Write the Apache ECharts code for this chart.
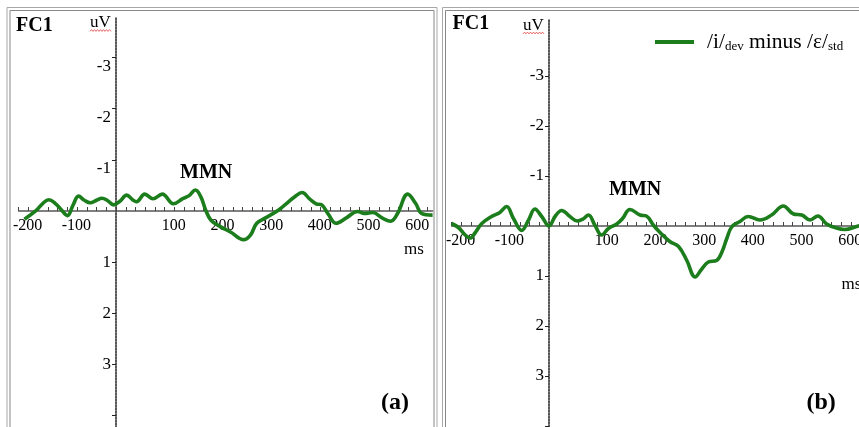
<!DOCTYPE html>
<html>
<head>
<meta charset="utf-8">
<script src="https://cdn.jsdelivr.net/npm/echarts@6/dist/echarts.min.js"></script>
<style>
  html, body { margin: 0; padding: 0; background: #fff; }
  #chart { width: 859px; height: 427px; }
</style>
</head>
<body>
<div id="chart"></div>
<script>
// Difference waves at electrode FC1 (time in ms, amplitude in uV, negative up)
const seriesName = '/i/dev minus /ε/std';

// Panel (a)
const msA = [-188, -165, -150, -138, -125, -112, -100, -88, -77, -65, -53, -40, -29, -17, -5, 8, 22, 34, 42, 59,
  76, 95, 118, 137, 150, 163, 174, 184, 195, 215, 235, 262, 276, 289, 306, 334, 354, 367, 382, 398,
  411, 422, 435, 452, 472, 496, 510, 527, 547, 564, 578, 599, 615, 628, 650];
const uvA = [0.16, 0.0, -0.15, -0.22, -0.15, -0.02, 0.09, -0.12, -0.29, -0.21, -0.16, -0.21, -0.25, -0.2, -0.12, -0.19, -0.31, -0.22, -0.18, -0.33,
  -0.24, -0.33, -0.14, -0.24, -0.3, -0.41, -0.28, -0.02, 0.18, 0.31, 0.41, 0.56, 0.47, 0.24, 0.14, -0.02, -0.18, -0.28, -0.36, -0.23,
  -0.14, -0.12, 0.05, 0.24, 0.14, 0.01, 0.05, 0.03, 0.14, 0.2, 0.05, -0.33, -0.15, 0.05, 0.08];

// Panel (b)
const msB = [-200, -186, -172, -162, -152, -138, -118, -101, -87, -73, -56, -42, -29, -15, 0, 13, 26, 43, 58, 70,
  81, 94, 108, 122, 139, 151, 166, 187, 200, 214, 228, 248, 266, 283, 300, 313, 327, 344, 355, 365,
  375, 392, 409, 433, 457, 481, 502, 519, 536, 552, 570, 590, 607, 635, 650];
const uvB = [-0.05, 0.03, 0.18, 0.24, 0.14, -0.05, -0.19, -0.27, -0.39, -0.15, 0.09, -0.12, -0.34, -0.19, 0.0, -0.2, -0.31, -0.19, -0.1, -0.14,
  -0.22, -0.02, 0.18, 0.05, -0.04, -0.15, -0.33, -0.22, -0.2, -0.02, 0.13, 0.31, 0.41, 0.69, 1.02, 0.87, 0.72, 0.69, 0.52, 0.25,
  0.02, -0.09, -0.19, -0.12, -0.22, -0.4, -0.24, -0.22, -0.12, -0.2, -0.04, 0.04, 0.07, 0.0, -0.02];

// Tick labels
const xLabels = [-200, -100, 100, 200, 300, 400, 500, 600];
const yLabels = [-3, -2, -1, 1, 2, 3];

const serif = 'Liberation Serif';
const green = '#1b7d1b';

// Each panel: plot box and axis ranges
const panels = [
  { left: 18.6, top: 18, width: 414, height: 409, xMin: -200, xMax: 650, yMin: -3.77, yMax: 4.22, shiftNeg: true },
  { left: 451.6, top: 20, width: 414, height: 407, xMin: -200, xMax: 650, yMin: -4.12, yMax: 4.02, shiftNeg: false }
];

const xTicks = [];
for (let v = -200; v <= 640; v += 20) xTicks.push(v);

// The axes cross at (0, 0): shift each axis inward from the plot edge to the zero line
function makeX(idx) {
  const p = panels[idx];
  const fromBottom = p.height * (p.yMax - 0) / (p.yMax - p.yMin);
  return {
    type: 'value', gridIndex: idx, min: p.xMin, max: p.xMax, position: 'bottom', offset: -fromBottom,
    axisLine: { onZero: false, lineStyle: { color: '#555', width: 1.5 } },
    axisTick: { show: true, inside: true, length: 4, customValues: xTicks, lineStyle: { color: '#444', width: 1 } },
    axisLabel: {
      customValues: xLabels, margin: 7, color: '#000', fontFamily: serif, fontSize: 16,
      align: 'center', padding: [0, 0, 0, 18]
    },
    splitLine: { show: false }
  };
}

function makeY(idx) {
  const p = panels[idx];
  const fromLeft = p.width * (0 - p.xMin) / (p.xMax - p.xMin);
  return {
    type: 'value', gridIndex: idx, min: p.yMin, max: p.yMax, inverse: true, position: 'left', offset: -fromLeft,
    axisLine: { onZero: false, lineStyle: { color: '#222', width: 1.5, type: [2, 1] } },
    axisTick: { show: true, length: 4, customValues: [-3, -2, -1, 1, 2, 3, 4], lineStyle: { color: '#222', width: 1 } },
    axisLabel: {
      customValues: yLabels, margin: 5, color: '#000', fontFamily: serif, fontSize: 17,
      formatter: v => (v < 0 && p.shiftNeg) ? '{n|' + v + '}' : '{p|' + v + '}',
      rich: {
        n: { fontFamily: serif, fontSize: 17, color: '#000', padding: [18, 0, 0, 0] },
        p: { fontFamily: serif, fontSize: 17, color: '#000' }
      }
    },
    splitLine: { show: false }
  };
}

function squiggle(x0, y0, w) {
  const pts = [];
  for (let i = 0; i <= w; i += 1.5) pts.push([x0 + i, y0 + ((Math.round(i / 1.5) % 2) ? -0.9 : 0.9)]);
  return { type: 'polyline', shape: { points: pts }, style: { stroke: '#e04040', lineWidth: 0.8, fill: null }, z: 10 };
}

function frame(x, y, w, h, color) {
  return { type: 'rect', shape: { x: x, y: y, width: w, height: h }, style: { fill: null, stroke: color, lineWidth: 1 }, z: 0 };
}

function label(text, x, y, size, bold) {
  return {
    type: 'text', x: x, y: y, z: 10,
    style: { text: text, fontFamily: serif, fontSize: size, fontWeight: bold ? 'bold' : 'normal', fill: '#000', verticalAlign: 'middle', align: 'left' }
  };
}

const chart = echarts.init(document.getElementById('chart'), null, { renderer: 'canvas' });
chart.setOption({
  backgroundColor: '#fff',
  animation: false,
  grid: panels.map(p => ({ left: p.left, top: p.top, width: p.width, height: p.height, containLabel: false, outerBoundsMode: 'none' })),
  xAxis: [makeX(0), makeX(1)],
  yAxis: [makeY(0), makeY(1)],
  legend: {
    left: 650, top: 26,
    itemWidth: 39, itemHeight: 4, icon: 'rect',
    data: [seriesName],
    formatter: () => '{a|/i/}{s|dev}{a| minus /ε/}{s|std}',
    textStyle: {
      padding: [0, 0, 0, 8],
      rich: {
        a: { fontFamily: serif, fontSize: 21.5, color: '#000' },
        s: { fontFamily: serif, fontSize: 13, color: '#000', padding: [10, 0, 0, 0] }
      }
    }
  },
  series: [
    {
      name: seriesName, type: 'line', xAxisIndex: 0, yAxisIndex: 0,
      data: msA.map((m, i) => [m, uvA[i]]), smooth: 0.4, showSymbol: false,
      lineStyle: { color: green, width: 3.6 }, itemStyle: { color: green }, z: 5
    },
    {
      name: seriesName, type: 'line', xAxisIndex: 1, yAxisIndex: 1,
      data: msB.map((m, i) => [m, uvB[i]]), smooth: 0.4, showSymbol: false,
      lineStyle: { color: green, width: 3.6 }, itemStyle: { color: green }, z: 5
    }
  ],
  graphic: [
    frame(7, 7.5, 430, 440, '#a8a8a8'),
    frame(10, 10.5, 424, 440, '#888'),
    frame(442.5, 7.5, 440, 440, '#a8a8a8'),
    frame(445.5, 10.5, 440, 440, '#888'),
    label('FC1', 16, 25.5, 20, true),
    label('FC1', 452.5, 24, 20, true),
    label('uV', 90, 23, 17, false),
    label('uV', 523, 26, 17, false),
    squiggle(90, 30.5, 21),
    squiggle(523, 33, 21),
    label('MMN', 180, 173, 20, true),
    label('MMN', 609, 190, 20, true),
    label('ms', 404, 249.5, 17, false),
    label('ms', 841.5, 284.5, 17, false),
    label('(a)', 381, 403, 24, true),
    label('(b)', 806.5, 403, 24, true)
  ]
});
</script>
</body>
</html>
